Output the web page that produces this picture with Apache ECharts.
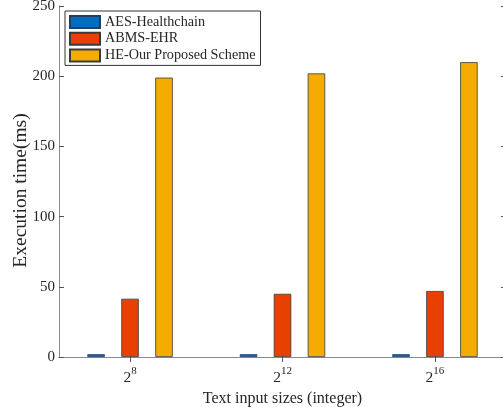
<!DOCTYPE html>
<html>
<head>
<meta charset="utf-8">
<script src="https://cdn.jsdelivr.net/npm/echarts@6/dist/echarts.min.js"></script>
<style>
  html, body { margin: 0; padding: 0; background: #ffffff; }
  #chart { width: 503px; height: 407px; }
</style>
</head>
<body>
<div id="chart"></div>
<script>
// ---- data ----
const categoryBase = ['2', '2', '2'];
const categoryExponents = ['8', '12', '16'];
const seriesNames = ['AES-Healthchain', 'ABMS-EHR', 'HE-Our Proposed Scheme'];
const aesHealthchain = [2, 2, 2];
const abmsEhr = [41.5, 45, 47];
const heProposed = [199, 202, 210];

// ---- chart ----
const FONT = "'Liberation Serif', 'Times New Roman', serif";
const TEXT = '#262626';
const AXIS = '#8a8a8a';
const positions = categoryExponents.map((_, i) => i + 1);
const colors = ['#006EBE', '#E84000', '#F5AC00'];
const allSeries = [aesHealthchain, abmsEhr, heProposed];

const xMin = 0.534, xMax = 3.466;

const chart = echarts.init(document.getElementById('chart'), null, { renderer: 'canvas' });
chart.setOption({
  animation: false,
  backgroundColor: '#ffffff',
  textStyle: { fontFamily: FONT, color: TEXT },
  grid: { left: 59, top: 6, width: 447, height: 351, containLabel: false, outerBoundsMode: 'none' },
  legend: {
    orient: 'vertical',
    left: 65, top: 11,
    padding: [4, 5, 3, 4],
    itemWidth: 30, itemHeight: 12, itemGap: 2.7,
    icon: 'rect',
    backgroundColor: '#ffffff',
    borderColor: '#333333', borderWidth: 1,
    textStyle: { fontFamily: FONT, fontSize: 14.2, lineHeight: 14, color: TEXT },
    data: seriesNames
  },
  xAxis: [{
    type: 'value', position: 'bottom', min: xMin, max: xMax,
    name: 'Text input sizes (integer)', nameLocation: 'middle', nameGap: 27,
    nameTextStyle: { fontFamily: FONT, fontSize: 16, color: TEXT },
    axisLine: { show: true, lineStyle: { color: AXIS, width: 1 } },
    axisTick: { show: true, inside: true, length: 5, customValues: positions, lineStyle: { color: '#555' } },
    axisLabel: {
      show: true, margin: 9, customValues: positions,
      fontFamily: FONT, fontSize: 15, color: TEXT,
      formatter: function (v) {
        const i = Math.round(v) - 1;
        return '{b|' + categoryBase[i] + '}{s|' + categoryExponents[i] + '}';
      },
      rich: {
        b: { fontFamily: FONT, fontSize: 15.5, color: TEXT },
        s: { fontFamily: FONT, fontSize: 11, color: TEXT, padding: [0, 0, 13, 0] }
      }
    },
    splitLine: { show: false }
  }, {
    type: 'value', position: 'top', min: xMin, max: xMax,
    axisLine: { show: true, lineStyle: { color: AXIS, width: 1 } },
    axisTick: { show: true, inside: true, length: 5, customValues: positions, lineStyle: { color: '#555' } },
    axisLabel: { show: false },
    splitLine: { show: false }
  }],
  yAxis: [{
    type: 'value', position: 'left', min: 0, max: 250, interval: 50,
    name: 'Execution time(ms)', nameLocation: 'middle', nameGap: 28, nameMoveOverlap: false,
    nameTextStyle: { fontFamily: FONT, fontSize: 19.5, color: TEXT, padding: [0, 18, 0, 0] },
    axisLine: { show: true, lineStyle: { color: AXIS, width: 1 } },
    axisTick: { show: true, inside: true, length: 5, lineStyle: { color: '#555' } },
    axisLabel: { show: true, margin: 4, fontFamily: FONT, fontSize: 15, color: TEXT },
    splitLine: { show: false }
  }, {
    type: 'value', position: 'right', min: 0, max: 250, interval: 50,
    axisLine: { show: true, lineStyle: { color: AXIS, width: 1 } },
    axisTick: { show: true, inside: true, length: 5, lineStyle: { color: '#555' } },
    axisLabel: { show: false },
    splitLine: { show: false }
  }],
  series: allSeries.map((vals, k) => ({
    name: seriesNames[k],
    type: 'bar',
    xAxisIndex: 0, yAxisIndex: 0,
    barWidth: 17.5,
    barGap: '94%',
    itemStyle: { color: colors[k], borderColor: k === 0 ? '#1f3f66' : '#3a3a3a', borderWidth: 0.8 },
    data: vals.map((v, i) => [positions[i], v])
  }))
});
</script>
</body>
</html>
